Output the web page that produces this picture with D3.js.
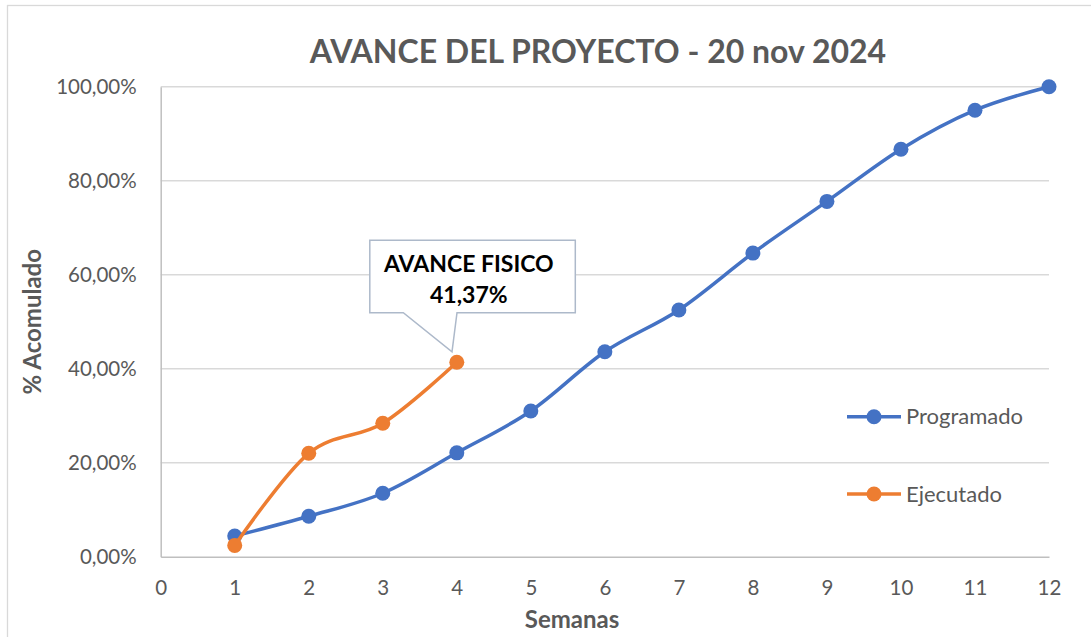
<!DOCTYPE html>
<html>
<head>
<meta charset="utf-8">
<script src="https://cdn.jsdelivr.net/npm/d3@7"></script>
<style>
    body { margin: 0; background: #fff; }
    svg { display: block; font-family: Lato, "Open Sans", sans-serif; }
    .tick text { fill: #595959; }
</style>
</head>
<body>
<div id="chart"></div>
<script>
'use strict';

// chart values
var semanas = [1, 2, 3, 4, 5, 6, 7, 8, 9, 10, 11, 12];
var programado = [0.044, 0.086, 0.135, 0.221, 0.310, 0.436, 0.525, 0.646, 0.756, 0.867, 0.950, 1.000];
var ejecutado = [0.024, 0.220, 0.284, 0.4137];
var xTicks = [0, 1, 2, 3, 4, 5, 6, 7, 8, 9, 10, 11, 12];
var yTicks = [0, 0.2, 0.4, 0.6, 0.8, 1.0];
var seriesNames = ["Programado", "Ejecutado"];
var colors = ["#4472C4", "#ED7D31"];

var outerWidth = 1091,
    outerHeight = 637,
    margin = {left: 160.7, right: 42, top: 86.7, bottom: 80.3},
    width = outerWidth - margin.left - margin.right,
    height = outerHeight - margin.top - margin.bottom;

var pctFormat = function (d) {
    return d3.format(".2f")(d * 100).replace(".", ",") + "%";
};

var svg = d3.select("#chart")
    .append("svg")
    .attr("width", outerWidth)
    .attr("height", outerHeight);

// chart border
svg.append("rect")
    .attr("x", 7.5)
    .attr("y", 5.5)
    .attr("width", outerWidth + 20)
    .attr("height", outerHeight + 20)
    .attr("fill", "none")
    .attr("stroke", "#d9d9d9")
    .attr("stroke-width", 1.3);

svg.append("text")
    .attr("x", 598)
    .attr("y", 63)
    .attr("text-anchor", "middle")
    .attr("fill", "#595959")
    .style("font-size", "32px")
    .style("font-weight", "bold")
    .text("AVANCE DEL PROYECTO - 20 nov 2024");

var g = svg.append("g")
    .attr("transform", "translate(" + margin.left + "," + margin.top + ")");

var xScale = d3.scaleLinear().domain([0, 12]).range([0, width]);
var yScale = d3.scaleLinear().domain([0, 1]).range([height, 0]);

// gridlines
g.append("g")
    .selectAll("line")
    .data(yTicks.filter(function (d) { return d > 0; }))
    .enter().append("line")
    .attr("x1", 0)
    .attr("x2", width)
    .attr("y1", function (d) { return yScale(d); })
    .attr("y2", function (d) { return yScale(d); })
    .attr("stroke", "#d9d9d9")
    .attr("stroke-width", 1.5);

var yAxis = d3.axisLeft(yScale)
    .tickValues(yTicks)
    .tickFormat(pctFormat)
    .tickSize(0)
    .tickPadding(24);

var xAxis = d3.axisBottom(xScale)
    .tickValues(xTicks)
    .tickFormat(d3.format("d"))
    .tickSize(0)
    .tickPadding(38.5);

var yG = g.append("g").call(yAxis);
var xG = g.append("g").attr("transform", "translate(0," + height + ")").call(xAxis);

[yG, xG].forEach(function (a) {
    a.select(".domain").attr("stroke", "#bfbfbf").attr("stroke-width", 1.5);
    a.selectAll(".tick text")
        .style("font-size", "20.5px")
        .style("font-family", "Lato, sans-serif");
});
yG.selectAll(".tick text").attr("dy", "0.35em");
xG.selectAll(".tick text").attr("dy", "0");

// axis labels
svg.append("text")
    .attr("transform", "rotate(-90)")
    .attr("x", -(margin.top + height / 2))
    .attr("y", 41)
    .attr("text-anchor", "middle")
    .attr("fill", "#595959")
    .style("font-size", "24px")
    .style("font-weight", "bold")
    .text("% Acomulado");

svg.append("text")
    .attr("x", 572)
    .attr("y", 628)
    .attr("text-anchor", "middle")
    .attr("fill", "#595959")
    .style("font-size", "24px")
    .style("font-weight", "bold")
    .text("Semanas");

// series
var line = d3.line()
    .x(function (d) { return xScale(d[0]); })
    .y(function (d) { return yScale(d[1]); })
    .curve(d3.curveCardinal.tension(0));

var series = [
    programado.map(function (v, i) { return [semanas[i], v]; }),
    ejecutado.map(function (v, i) { return [semanas[i], v]; })
];

series.forEach(function (data, k) {
    var s = g.append("g");
    s.append("path")
        .datum(data)
        .attr("d", line)
        .attr("fill", "none")
        .attr("stroke", colors[k])
        .attr("stroke-width", 3.5)
        .attr("stroke-linecap", "round");
    s.selectAll("circle")
        .data(data)
        .enter().append("circle")
        .attr("cx", function (d) { return xScale(d[0]); })
        .attr("cy", function (d) { return yScale(d[1]); })
        .attr("r", 7.5)
        .attr("fill", colors[k]);
});

// callout for the last executed value
var last = series[1][series[1].length - 1],
    px = margin.left + xScale(last[0]),
    py = margin.top + yScale(last[1]),
    bx0 = px - 87, bx1 = px + 118.5,
    by0 = py - 122, by1 = py - 49.5;

svg.append("path")
    .attr("d", "M" + bx0 + "," + by0 + "H" + bx1 + "V" + by1 + "H" + (px + 0.2) +
        "L" + (px - 4.8) + "," + (py - 10.5) + "L" + (px - 53.5) + "," + by1 + "H" + bx0 + "Z")
    .attr("fill", "#fff")
    .attr("stroke", "#adb9ca")
    .attr("stroke-width", 1.5);

var callout = svg.append("text")
    .attr("text-anchor", "middle")
    .attr("fill", "#000")
    .style("font-size", "23px")
    .style("font-weight", "bold");
callout.append("tspan").attr("x", px + 12).attr("y", py - 90.5).text("AVANCE FISICO");
callout.append("tspan").attr("x", px + 12).attr("y", py - 59.5).text(pctFormat(last[1]));

// legend
var legend = svg.append("g")
    .selectAll("g")
    .data(seriesNames)
    .enter().append("g")
    .attr("transform", function (d, i) { return "translate(847," + (416.7 + i * 77.3) + ")"; });

legend.append("line")
    .attr("x1", 0)
    .attr("x2", 54)
    .attr("stroke", function (d, i) { return colors[i]; })
    .attr("stroke-width", 3.5);
legend.append("circle")
    .attr("cx", 27)
    .attr("r", 7.5)
    .attr("fill", function (d, i) { return colors[i]; });
legend.append("text")
    .attr("x", 59)
    .attr("dy", "0.35em")
    .attr("fill", "#595959")
    .style("font-size", "22px")
    .text(function (d) { return d; });
</script>
</body>
</html>
